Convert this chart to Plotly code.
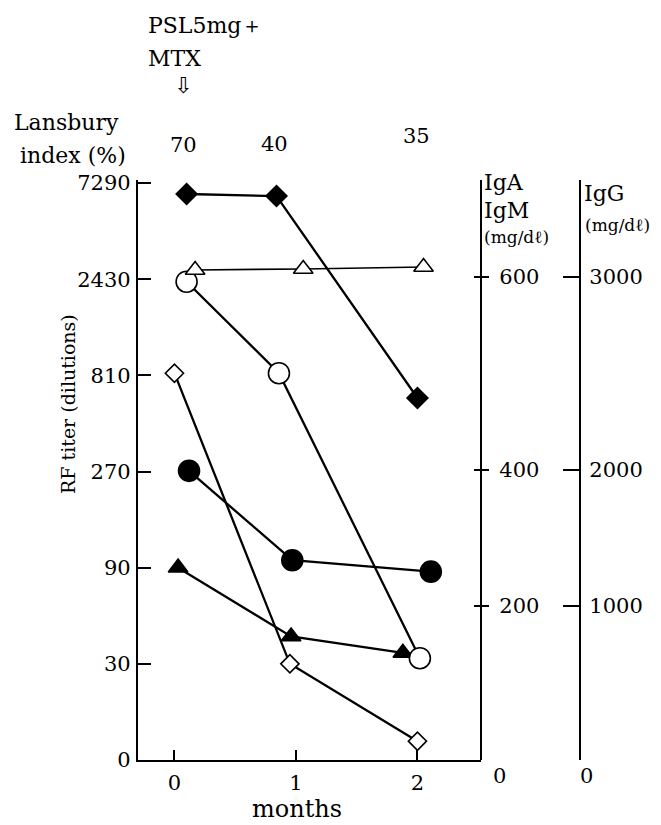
import plotly.graph_objects as go

# ---------------- data ----------------
month_ticks = [0, 1, 2]
month_labels = ["0", "1", "2"]

rf_tickvals = [10, 30, 90, 270, 810, 2430, 7290]
rf_ticktext = ["0", "30", "90", "270", "810", "2430", "7290"]

# right-hand scales (printed tick positions expressed on the RF titer scale)
iga_tick_pos = [58, 275, 2490]
iga_ticktext = ["200", "400", "600"]
igg_tick_pos = [10, 58, 275, 2490]
igg_ticktext = ["", "1000", "2000", "3000"]

lansbury = ["70", "40", "35"]

# series (months, value on RF titer scale)
fd_x = [0.10, 0.84, 2.00]
fd_y = [6430, 6280, 625]
ot_x = [0.17, 1.06, 2.05]
ot_y = [2700, 2730, 2790]
oc_x = [0.10, 0.86, 2.02]
oc_y = [2360, 830, 32]
od_x = [0.00, 0.95, 2.00]
od_y = [830, 30, 12.4]
fc_x = [0.12, 0.97, 2.11]
fc_y = [272, 98, 86]
ft_x = [0.03, 0.96, 1.88]
ft_y = [90, 41, 34]

# ---------------- figure ----------------
OFF = 8                      # default page body margin
W, H = 661 - OFF, 825 - OFF
FONT = "DejaVu Serif, serif"


def px(x):
    return (x - OFF) / W


def py(y):
    return 1 - (y - OFF) / H


fig = go.Figure()


def add(xs, ys, symbol, size, fill, lw=2.3, mlw=1.6):
    fig.add_trace(go.Scatter(
        x=xs, y=ys, mode="lines+markers",
        line=dict(color="black", width=lw),
        marker=dict(symbol=symbol, size=size, color=fill,
                    line=dict(color="black", width=mlw)),
        showlegend=False, hoverinfo="skip"))


add(od_x, od_y, "diamond", 14, "white")
add(ft_x, ft_y, "triangle-up", 17, "black")
add(fc_x, fc_y, "circle", 21, "black")
add(oc_x, oc_y, "circle", 21, "white")
add(ot_x, ot_y, "triangle-up", 17, "white", lw=1.6)
add(fd_x, fd_y, "diamond", 16, "black")

yrange = [1, 3.8776]
ydom = [py(760), py(180)]
TICK = 21

common = dict(showgrid=False, zeroline=False, automargin=False,
              tickcolor="black", tickwidth=2, linecolor="black")

fig.update_layout(
    template="none",
    width=W, height=H, autosize=False,
    margin=dict(l=0, r=0, t=0, b=0, pad=0),
    paper_bgcolor="white", plot_bgcolor="white",
    font=dict(family=FONT, size=TICK, color="black"),
    xaxis=dict(
        domain=[px(138), px(481)], range=[-0.300, 2.523],
        tickvals=month_ticks, ticktext=month_labels,
        ticks="inside", ticklen=10,
        showline=True, linewidth=2.2,
        ticklabelstandoff=3,
        tickfont=dict(family=FONT, size=TICK),
        **common,
    ),
    yaxis=dict(
        domain=ydom, type="log", range=yrange,
        tickvals=rf_tickvals, ticktext=rf_ticktext,
        ticks="inside", ticklen=13,
        showline=True, linewidth=2.2,
        ticklabelstandoff=1,
        tickfont=dict(family=FONT, size=TICK),
        **common,
    ),
    yaxis2=dict(
        overlaying="y", side="right", anchor="free", position=px(481),
        type="log", range=yrange,
        tickvals=iga_tick_pos, ticktext=iga_ticktext,
        ticks="outside", ticklen=7,
        showline=True, linewidth=2.2,
        ticklabelstandoff=6,
        tickfont=dict(family=FONT, size=TICK),
        **common,
    ),
    yaxis3=dict(
        overlaying="y", side="right", anchor="free", position=px(481),
        type="log", range=yrange,
        tickvals=iga_tick_pos, ticktext=["", "", ""],
        ticks="inside", ticklen=7,
        showline=False,
        **common,
    ),
    yaxis4=dict(
        overlaying="y", side="right", anchor="free", position=px(580),
        type="log", range=yrange,
        tickvals=igg_tick_pos, ticktext=igg_ticktext,
        ticks="inside", ticklen=16,
        showline=True, linewidth=2.2,
        ticklabelstandoff=4,
        tickfont=dict(family=FONT, size=TICK),
        **common,
    ),
)

# invisible traces to activate the overlay axes
for ax in ["y2", "y3", "y4"]:
    fig.add_trace(go.Scatter(x=[0], y=[100], yaxis=ax, mode="markers",
                             marker=dict(opacity=0), showlegend=False,
                             hoverinfo="skip"))

ann = []


def text(t, x, y, size=TICK, xanchor="center", yanchor="middle", font=FONT,
         angle=0):
    ann.append(dict(text=t, x=px(x), y=py(y), xref="paper", yref="paper",
                    showarrow=False, xanchor=xanchor, yanchor=yanchor,
                    textangle=angle,
                    font=dict(family=font, size=size, color="black")))


text("PSL5mg＋", 146, 25, xanchor="left", size=22)
text("MTX", 146, 58, xanchor="left", size=22)
text("⇩", 183, 86, size=22, font="DejaVu Sans")
text("Lansbury", 12, 123, xanchor="left", size=22)
text("index (%)", 18, 155, xanchor="left", size=22)
for lab, xp, yp in zip(lansbury, [183, 274, 416], [145, 144, 136]):
    text(lab, xp, yp)
text("RF titer (dilutions)", 68, 404, size=19, angle=-90)
text("IgA", 482, 182, xanchor="left", size=22)
text("IgM", 482, 211, xanchor="left", size=22)
text("(mg/dℓ)", 482, 237, xanchor="left", size=17)
text("IgG", 582, 193, xanchor="left", size=22)
text("(mg/dℓ)", 583, 225, xanchor="left", size=17)
text("0", 499, 776)
text("0", 586, 776)
text("months", 297, 809, size=24)

fig.update_layout(annotations=ann)

fig.write_html("out.html")
